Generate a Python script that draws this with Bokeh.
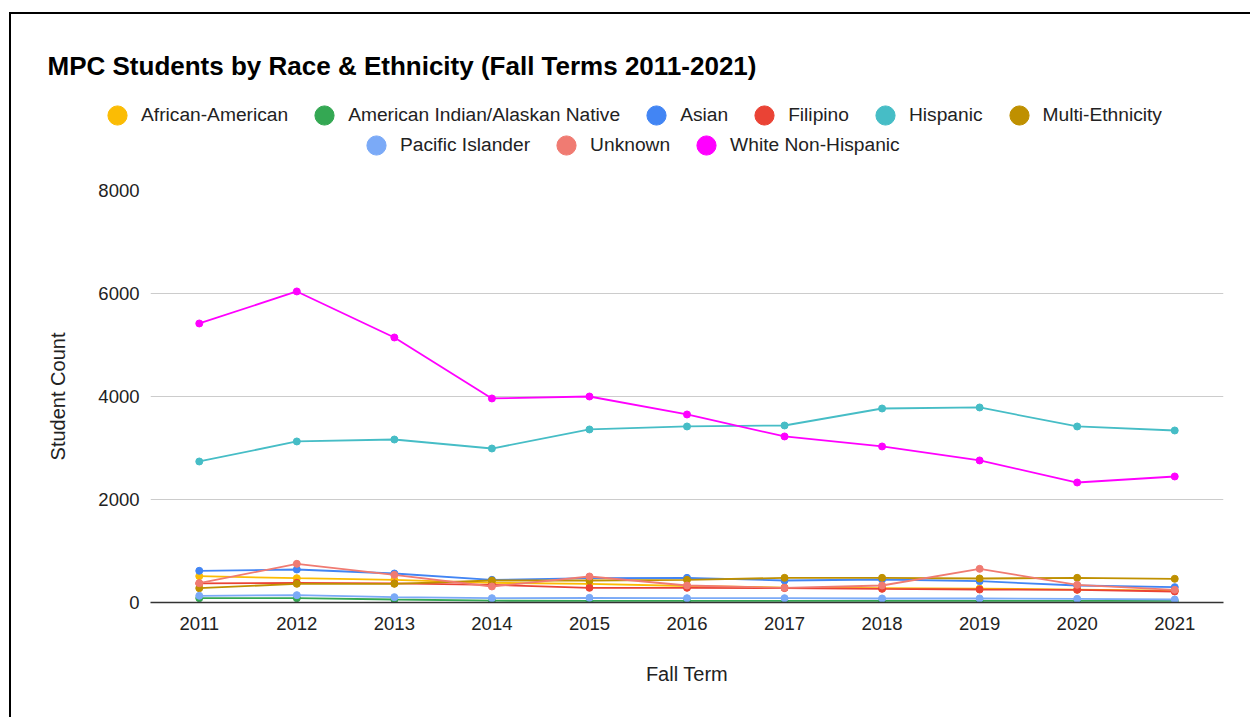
from bokeh.plotting import figure
from bokeh.layouts import column
from bokeh.models import Range1d, FixedTicker, Legend, LegendItem, Label
from bokeh.embed import file_html
from bokeh.resources import INLINE

years = [2011, 2012, 2013, 2014, 2015, 2016, 2017, 2018, 2019, 2020, 2021]

african_american = [511, 472, 440, 382, 363, 320, 290, 280, 270, 250, 230]
american_indian = [84, 84, 58, 35, 30, 30, 30, 30, 30, 30, 30]
asian = [615, 641, 563, 440, 472, 479, 427, 447, 414, 330, 298]
filipino = [370, 382, 370, 343, 285, 285, 280, 265, 252, 246, 214]
hispanic = [2738, 3127, 3165, 2990, 3360, 3418, 3437, 3767, 3787, 3418, 3340]
multi_ethnicity = [278, 363, 363, 427, 427, 440, 479, 479, 466, 479, 460]
pacific_islander = [130, 143, 104, 84, 91, 84, 84, 78, 78, 71, 58]
unknown = [375, 751, 537, 311, 505, 330, 285, 330, 654, 343, 246]
white = [5418, 6040, 5146, 3962, 4000, 3651, 3224, 3030, 2758, 2330, 2447]

series_names = ["African-American", "American Indian/Alaskan Native", "Asian", "Filipino",
                "Hispanic", "Multi-Ethnicity", "Pacific Islander", "Unknown", "White Non-Hispanic"]
series_values = [african_american, american_indian, asian, filipino, hispanic,
                 multi_ethnicity, pacific_islander, unknown, white]
series_colors = ["#FBBC04", "#34A853", "#4285F4", "#EA4335", "#46BDC6",
                 "#BF9000", "#7BAAF7", "#F07B72", "#FF00FF"]

y_ticks = [0, 2000, 4000, 6000, 8000]
title_text = "MPC Students by Race & Ethnicity (Fall Terms 2011-2021)"

FONT = "Liberation Sans"
W = 1250
HEAD_H = 178
MAIN_H = 717 - HEAD_H

# ---------- header: title + legend ----------
head = figure(width=W, height=HEAD_H, output_backend="svg", toolbar_location=None,
              x_range=Range1d(0, 1), y_range=Range1d(0, 1),
              x_axis_type=None, y_axis_type=None,
              min_border_left=0, min_border_right=0, min_border_top=0, min_border_bottom=0)
if "frame_align" in head.properties():
    head.frame_align = False
head.outline_line_color = None
head.background_fill_color = None
head.border_fill_color = None
head.xgrid.grid_line_color = None
head.ygrid.grid_line_color = None
head.styles = {"box-shadow": "inset 9px 12px 0 0 white, inset 11px 14px 0 0 black"}

# legend proxies (their single point lies outside the header's ranges)
proxies = []
for name, vals, col in zip(series_names, series_values, series_colors):
    proxies.append(head.scatter(x=[years[0]], y=[vals[0]], fill_color=col, line_color=col))
items = [LegendItem(label=n, renderers=[r]) for n, r in zip(series_names, proxies)]

def make_legend(its, loc):
    return Legend(items=its, location=loc, orientation="horizontal",
                  glyph_width=48, glyph_height=48, label_standoff=0, spacing=12,
                  padding=0, margin=0, border_line_color=None,
                  background_fill_alpha=0, label_text_font=FONT,
                  label_text_font_size="19.2px", label_text_color="#222222",
                  label_height=20)

head.add_layout(make_legend(items[:6], (93, HEAD_H - 139)), "center")
head.add_layout(make_legend(items[6:], (352, HEAD_H - 169)), "center")
head.add_layout(Label(x=47, y=HEAD_H - 65, x_units="screen", y_units="screen",
                      text=title_text, text_font=FONT, text_font_size="26px",
                      text_font_style="bold", text_color="#000000",
                      text_baseline="alphabetic", text_align="left"), "center")

# ---------- main chart ----------
p = figure(width=W, height=MAIN_H, output_backend="svg", toolbar_location=None,
           x_range=Range1d(2010.5, 2021.5), y_range=Range1d(0, 8000),
           min_border_left=150, min_border_right=W - 1223,
           min_border_top=190 - HEAD_H, min_border_bottom=717 - 602)
if "frame_align" in p.properties():
    p.frame_align = False
p.styles = {"box-shadow": "inset 9px 0 0 0 white, inset 11px 0 0 0 black"}
p.outline_line_color = None
p.background_fill_color = "white"
p.border_fill_color = None

p.xgrid.grid_line_color = None
p.ygrid.grid_line_color = "#CCCCCC"
p.ygrid.grid_line_width = 1

p.xaxis.ticker = FixedTicker(ticks=years)
p.yaxis.ticker = FixedTicker(ticks=y_ticks)
for ax in (p.xaxis, p.yaxis):
    ax.major_tick_line_color = None
    ax.minor_tick_line_color = None
    ax.major_label_text_font = FONT
    ax.major_label_text_font_size = "18.5px"
    ax.major_label_text_color = "#222222"
    ax.axis_label_text_font = FONT
    ax.axis_label_text_font_size = "20px"
    ax.axis_label_text_color = "#222222"
    ax.axis_label_text_font_style = "normal"
p.yaxis.axis_line_color = None
p.xaxis.axis_line_color = "#333333"
p.xaxis.axis_line_width = 1.5
p.xaxis.major_label_standoff = 8
p.yaxis.major_label_standoff = 5
p.xaxis.axis_label = "Fall Term"
p.yaxis.axis_label = "Student Count"
p.xaxis.axis_label_standoff = 30
p.yaxis.axis_label_standoff = 26

for name, vals, col in zip(series_names, series_values, series_colors):
    p.line(years, vals, line_color=col, line_width=1.8)
    p.scatter(years, vals, size=7, fill_color=col, line_color=col)

layout = column(head, p, spacing=0)
open("out.html", "w").write(file_html(layout, INLINE))
